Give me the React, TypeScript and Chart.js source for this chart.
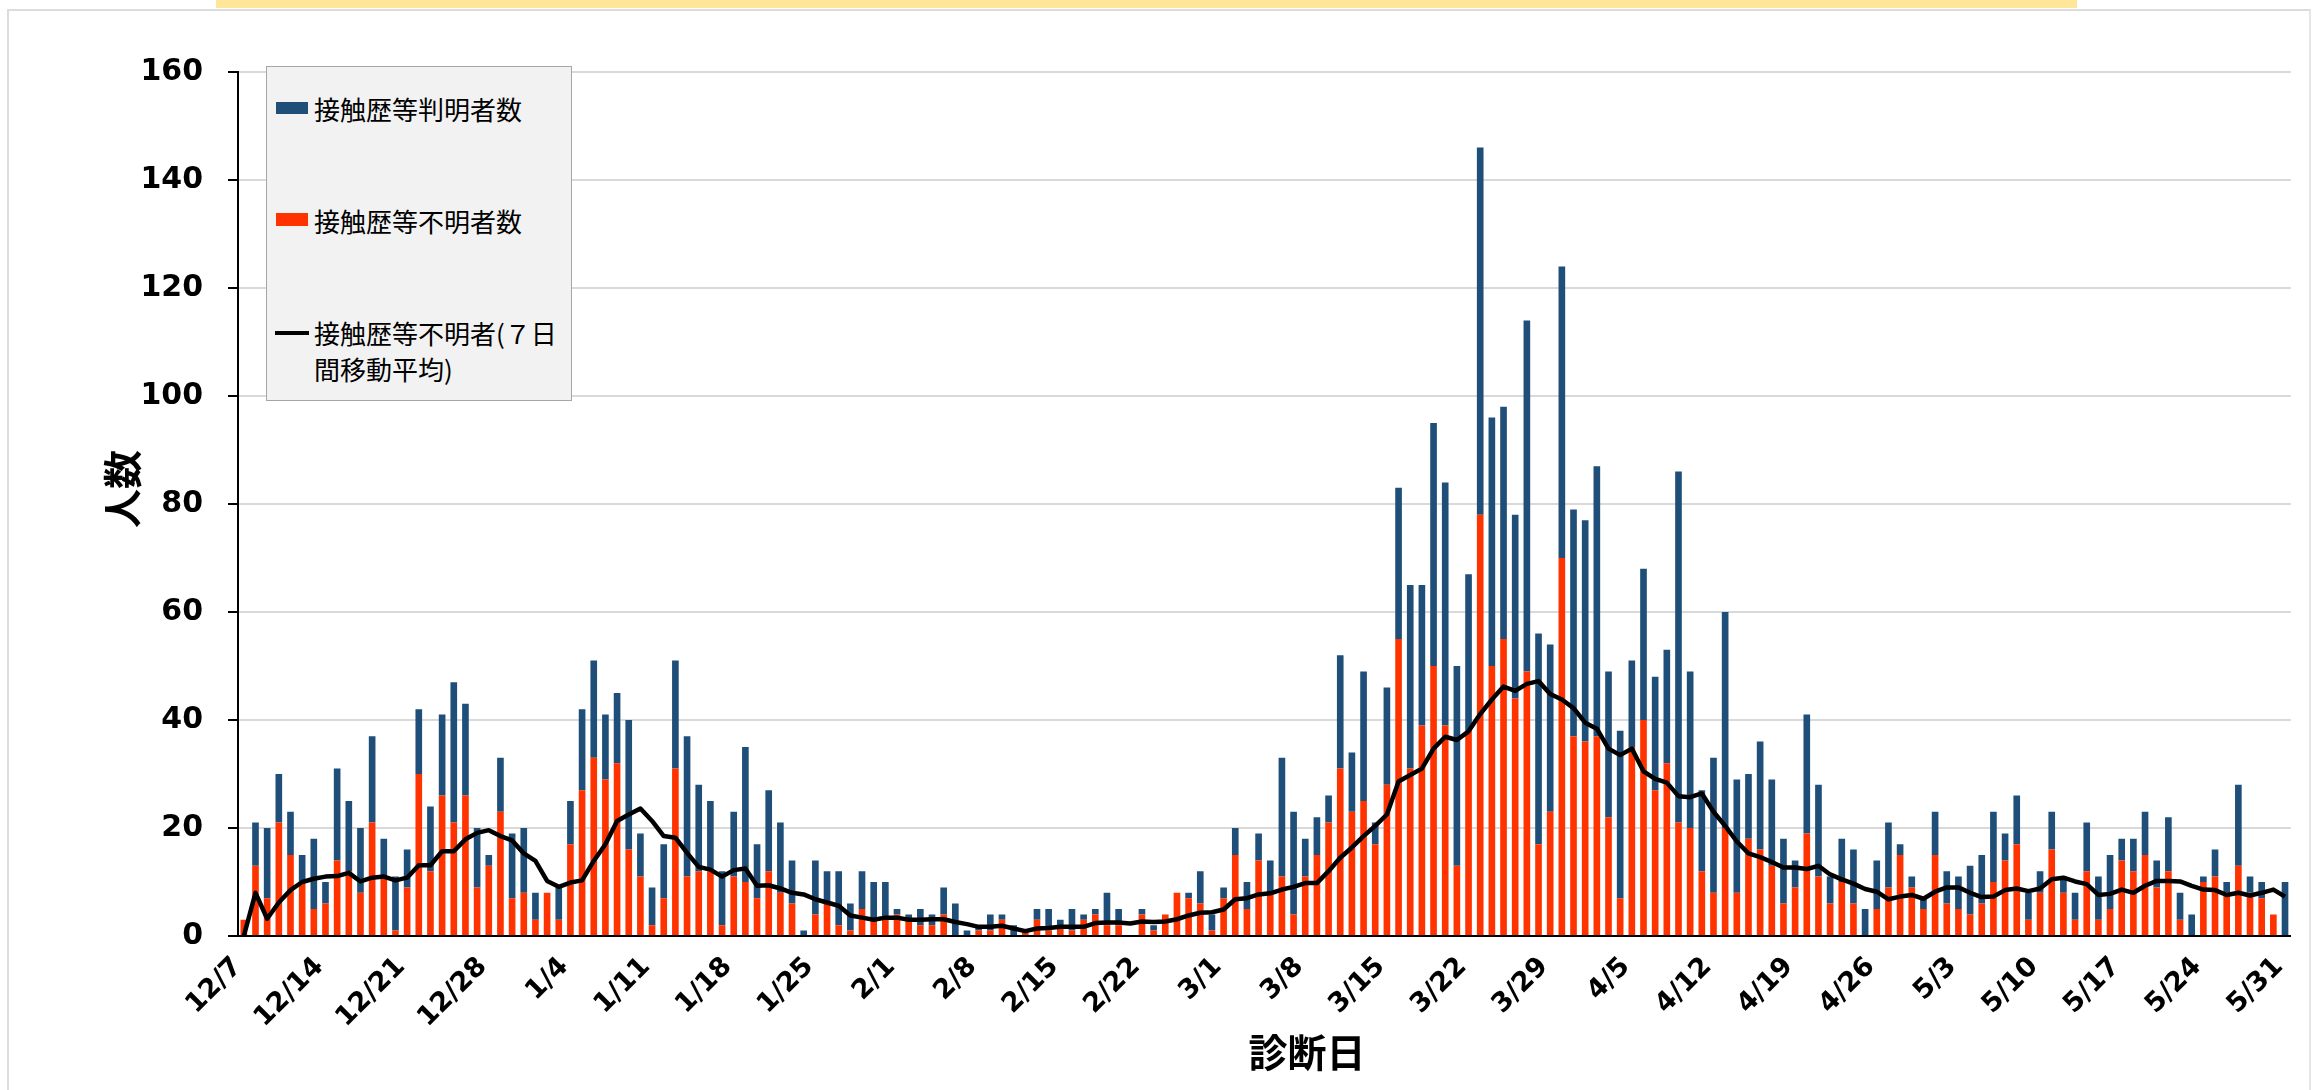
import React, { useEffect, useRef } from 'react';
import { Chart, registerables } from 'chart.js';

Chart.register(...registerables);

// ---- categories (診断日: 12/7 – 5/31) ----
const monthSpans: [number, number, number][] = [
  [12, 7, 31],
  [1, 1, 31],
  [2, 1, 28],
  [3, 1, 31],
  [4, 1, 30],
  [5, 1, 31],
];
const dateLabels: string[] = [];
for (const [m, s, e] of monthSpans) {
  for (let d = s; d <= e; d++) dateLabels.push(`${m}/${d}`);
}

// ---- series ----
// 接触歴等判明者数 (known contact history)
const knownCases: number[] = [
  0, 8, 13, 9, 8, 5, 13, 4, 17, 13, 12, 16, 7, 10, 7, 12, 12, 15, 26, 17, 11, 2, 10, 12, 12,
  5, 0, 6, 8, 15, 18, 12, 13, 24, 8, 7, 10, 20, 26, 16, 13, 10, 12, 25, 10, 15, 13, 8, 1, 10,
  6, 10, 5, 7, 7, 7, 1, 1, 3, 2, 5, 6, 1, 1, 3, 1, 2, 0, 2, 4, 1, 4, 1, 1, 6,
  3, 0, 1, 1, 0, 0, 1, 6, 3, 2, 5, 5, 5, 6, 22, 19, 7, 7, 5, 21, 11, 24, 4, 18, 28,
  34, 26, 45, 45, 37, 29, 68, 46, 43, 34, 65, 39, 31, 54, 42, 41, 50, 27, 31, 16,
  28, 21, 21, 65, 29, 15, 25, 40, 21, 12, 20, 16, 12, 5, 22, 17, 5, 8, 10, 5,
  9, 12, 2, 2, 2, 8, 6, 6, 9, 9, 13, 5, 9, 5, 4, 7, 3, 5, 9, 8,
  10, 4, 6, 8, 5, 10, 5, 4, 1, 5, 2, 15, 3, 3, 0, 10,
];

// 接触歴等不明者数 (unknown contact history)
const unknownCases: number[] = [
  3, 13, 7, 21, 15, 10, 5, 6, 14, 12, 8, 21, 11, 1, 9, 30, 12, 26, 21, 26, 9, 13, 23, 7, 8,
  3, 8, 3, 17, 27, 33, 29, 32, 16, 11, 2, 7, 31, 11, 12, 12, 2, 11, 10, 7, 12, 8, 6, 0, 4,
  6, 2, 1, 5, 3, 3, 4, 3, 2, 2, 4, 0, 0, 1, 1, 3, 0, 1, 3, 1, 2, 1, 3, 4, 2,
  2, 0, 4, 1, 4, 8, 7, 6, 1, 7, 15, 5, 14, 8, 11, 4, 11, 15, 21, 31, 23, 25, 17, 28, 55,
  31, 39, 50, 39, 13, 38, 78, 50, 55, 44, 49, 17, 23, 70, 37, 36, 37, 22, 7, 35,
  40, 27, 32, 21, 20, 12, 8, 20, 8, 18, 16, 13, 6, 9, 19, 11, 6, 10, 6, 0,
  5, 9, 15, 9, 5, 15, 6, 5, 4, 6, 10, 14, 17, 3, 8, 16, 8, 3, 12, 3,
  5, 14, 12, 15, 9, 12, 3, 0, 10, 11, 8, 13, 8, 7, 4, 0,
];

// 接触歴等不明者（7日間移動平均）
const unknownAvg7: number[] = [
  0, 8, 3.2, 6.2, 8.5, 10, 10.6, 11, 11.1, 11.7, 10.1, 10.8, 11, 10.3, 10.8, 13.1, 13.1, 15.7, 15.7, 17.9, 19.1, 19.6, 18.5, 17.7, 15.3,
  13.9, 10.2, 9.1, 9.9, 10.3, 13.9, 17, 21.3, 22.5, 23.6, 21.3, 18.5, 18.2, 15.4, 12.8, 12.3, 11, 12.2, 12.5, 9.3, 9.4, 8.8, 8, 7.7, 6.8,
  6.2, 5.6, 3.8, 3.4, 3, 3.4, 3.4, 3, 3, 3.1, 3.1, 2.6, 2.2, 1.7, 1.7, 1.9, 1.4, 0.9, 1.4, 1.5, 1.7, 1.7, 1.7, 2.4, 2.5,
  2.5, 2.3, 2.7, 2.6, 2.7, 3.1, 3.8, 4.3, 4.4, 4.9, 6.8, 7, 7.7, 7.9, 8.6, 9.1, 9.8, 9.8, 12, 14.5, 16.4, 18.5, 20.4, 22.5, 28.6,
  29.8, 31, 34.7, 36.9, 36.3, 37.9, 41.1, 43.8, 46.2, 45.4, 46.7, 47.2, 44.8, 43.8, 42.2, 39.5, 38.4, 34.7, 33.5, 34.7,
  30.5, 29.1, 28.4, 25.9, 25.7, 26.4, 23, 20.4, 17.5, 15.3, 14.6, 13.7, 12.7, 12.7, 12.4, 13, 11.4, 10.5, 9.7, 8.7,
  8.2, 6.8, 7.3, 7.6, 6.9, 8.2, 9, 9, 8, 7.2, 7.3, 8.5, 8.8, 8.3, 8.8, 10.5, 10.8, 10.1, 9.6, 7.6,
  7.8, 8.6, 8, 9.3, 10.2, 10.2, 10.1, 9.3, 8.6, 8.5, 7.6, 8, 7.5, 8, 8.6, 7.3,
];

const yTicks: number[] = [0, 20, 40, 60, 80, 100, 120, 140, 160];

const BLUE = '#1f4e79';
const RED = '#ff3300';
const CJK = '"Noto Sans CJK JP", "Noto Sans", sans-serif';

export default function App() {
  const ref = useRef<HTMLCanvasElement>(null);

  useEffect(() => {
    if (!ref.current) return;
    const chart = new Chart(ref.current, {
      type: 'bar',
      data: {
        labels: dateLabels,
        datasets: [
          {
            type: 'line',
            label: '接触歴等不明者（7日間移動平均）',
            data: unknownAvg7,
            borderColor: '#000000',
            backgroundColor: '#000000',
            borderWidth: 4.5,
            pointRadius: 0,
            tension: 0,
            borderJoinStyle: 'round',
            order: 0,
            stack: 'avg',
          } as any,
          {
            type: 'bar',
            label: '接触歴等不明者数',
            data: unknownCases,
            backgroundColor: RED,
            barPercentage: 0.57,
            categoryPercentage: 1,
            order: 1,
            stack: 'cases',
          },
          {
            type: 'bar',
            label: '接触歴等判明者数',
            data: knownCases,
            backgroundColor: BLUE,
            barPercentage: 0.57,
            categoryPercentage: 1,
            order: 2,
            stack: 'cases',
          },
        ],
      },
      options: {
        responsive: false,
        animation: false,
        devicePixelRatio: 1,
        layout: { padding: { left: 0, right: 26, top: 72, bottom: 0 } },
        plugins: {
          legend: { display: false },
          tooltip: { enabled: false },
          title: { display: false },
        },
        scales: {
          x: {
            stacked: true,
            grid: { display: false, drawTicks: false, tickLength: 0 },
            border: { display: true, color: '#000000', width: 2 },
            ticks: {
              autoSkip: false,
              maxRotation: 45,
              minRotation: 45,
              padding: 15,
              labelOffset: -6,
              color: '#000000',
              font: { family: '"DejaVu Sans", sans-serif', size: 27, weight: 'bold' },
              callback: (_v: any, i: number) => (i % 7 === 0 ? dateLabels[i] : ''),
            },
            afterFit: (s: any) => {
              s.height = 154;
            },
          },
          y: {
            stacked: true,
            min: yTicks[0],
            max: yTicks[yTicks.length - 1],
            afterBuildTicks: (s: any) => {
              s.ticks = yTicks.map((v) => ({ value: v }));
            },
            ticks: {
              padding: 25,
              color: '#000000',
              font: { family: '"DejaVu Sans", sans-serif', size: 30, weight: 'bold' },
            },
            grid: {
              color: '#d9d9d9',
              lineWidth: 2,
              drawTicks: true,
              tickLength: 10,
              tickColor: '#000000',
              tickWidth: 2,
            },
            border: { display: true, color: '#000000', width: 2 },
            afterFit: (s: any) => {
              s.width = 238;
            },
          },
        },
      },
    } as any);
    return () => chart.destroy();
  }, []);

  const legendText: React.CSSProperties = {
    position: 'absolute',
    left: 47,
    fontFamily: CJK,
    fontSize: 26,
    lineHeight: '36px',
    color: '#000',
    whiteSpace: 'nowrap',
  };

  return (
    <div
      style={{
        position: 'fixed',
        left: 0,
        top: 0,
        width: 2323,
        height: 1090,
        background: '#ffffff',
        overflow: 'hidden',
      }}
    >
      <div
        style={{
          position: 'absolute',
          left: 216,
          top: 0,
          width: 1861,
          height: 8,
          background: '#ffe699',
        }}
      />
      <div
        style={{
          position: 'absolute',
          left: 7,
          top: 9,
          width: 2304,
          height: 1100,
          borderTop: '2px solid #dcdcdc',
          borderLeft: '2px solid #dcdcdc',
          borderRight: '2px solid #e6e6e6',
          boxSizing: 'border-box',
        }}
      />
      <canvas
        ref={ref}
        width={2323}
        height={1090}
        style={{ position: 'absolute', left: 0, top: 0, width: 2323, height: 1090 }}
      />
      {/* Y axis title */}
      <div
        style={{
          position: 'absolute',
          left: 120,
          top: 489,
          transform: 'translate(-50%, -50%) rotate(-90deg)',
          fontFamily: CJK,
          fontWeight: 700,
          fontSize: 39,
          lineHeight: '44px',
          whiteSpace: 'nowrap',
          color: '#000',
        }}
      >
        人数
      </div>
      {/* X axis title */}
      <div
        style={{
          position: 'absolute',
          left: 1307,
          top: 1050,
          transform: 'translate(-50%, -50%)',
          fontFamily: CJK,
          fontWeight: 700,
          fontSize: 39,
          lineHeight: '44px',
          whiteSpace: 'nowrap',
          color: '#000',
        }}
      >
        診断日
      </div>
      {/* Legend */}
      <div
        style={{
          position: 'absolute',
          left: 266,
          top: 66,
          width: 306,
          height: 335,
          background: '#f2f2f2',
          border: '1px solid #a6a6a6',
          boxSizing: 'border-box',
        }}
      >
        <div style={{ position: 'absolute', left: 9, top: 35, width: 32, height: 12, background: BLUE }} />
        <div style={{ ...legendText, top: 24 }}>接触歴等判明者数</div>
        <div style={{ position: 'absolute', left: 9, top: 146, width: 32, height: 13, background: RED }} />
        <div style={{ ...legendText, top: 136 }}>接触歴等不明者数</div>
        <div style={{ position: 'absolute', left: 8, top: 264, width: 34, height: 4, background: '#000' }} />
        <div style={{ ...legendText, top: 248 }}>
          接触歴等不明者(７日
          <br />
          間移動平均)
        </div>
      </div>
    </div>
  );
}
